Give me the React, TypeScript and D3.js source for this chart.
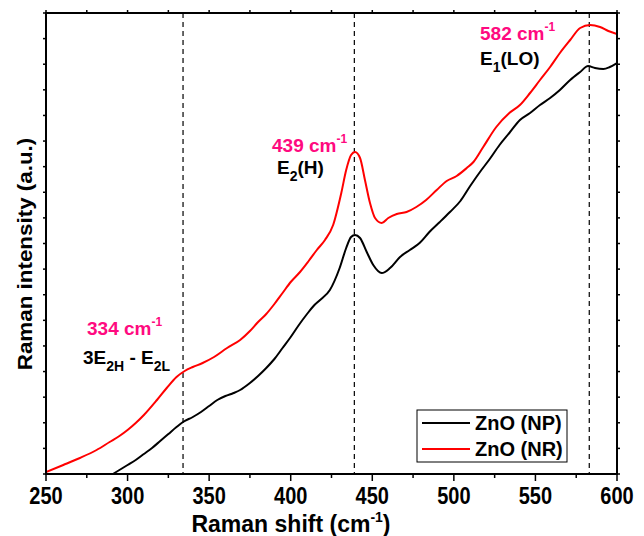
import React from "react";
import * as d3 from "d3";

// Raman shift (cm^-1) and intensity (a.u.)
const npShift = [291, 295, 300, 305, 310, 315, 320, 325, 330, 334, 340, 345, 350, 355, 360, 365, 369, 375, 380, 385, 390, 395, 400, 405, 410, 414, 418, 424, 430, 434, 437, 439.4, 442.5, 446.6, 450.6, 455.8, 460.9, 467, 473, 479, 485, 491.4, 497.6, 504, 510, 516, 522, 528, 534, 540.5, 546.7, 552.8, 559, 565, 571.3, 577.4, 582.3, 586.5, 591.6, 595.6, 600];
const npIntensity = [0, 4, 9, 14, 20, 26, 33, 40, 47, 52, 57, 62, 68, 74, 78, 81, 84, 91, 98, 106, 115, 126, 137, 149, 160, 168, 174, 184, 206, 226, 237, 239, 236, 222, 209, 201, 206, 217, 224, 231, 242, 252, 262, 273, 288, 302, 315, 329, 341, 354, 361, 369, 376, 384, 394, 402, 408, 406, 405, 407, 411];

const nrShift = [250, 260.6, 270.8, 281, 289, 295, 300, 305, 310, 318, 324, 330, 335, 340, 346, 353, 361, 369, 375, 380, 385, 390, 395, 400, 405.7, 411, 416, 421, 426, 431, 434, 437, 439.4, 442.5, 445.5, 448.6, 451.7, 455.8, 459.8, 465, 471, 477, 483, 489.5, 495.6, 501.7, 507.9, 512, 518, 526, 534, 540.5, 546.7, 552.8, 559, 565, 571.3, 577.4, 583.5, 589.6, 594.7, 600];
const nrIntensity = [2, 9, 16, 24, 32, 38, 44, 51, 59, 74, 86, 97, 103, 107, 111, 117, 126, 134, 143, 152, 160, 170, 181, 192, 202, 213, 224, 234, 249, 281, 304, 319, 322, 316, 294, 271, 256, 251, 256, 260, 262, 267, 274, 284, 293, 298, 306, 312, 327, 347, 361, 369, 381, 394, 407, 421, 434, 446, 449, 447, 443, 440];

const xTickValues = [250, 300, 350, 400, 450, 500, 550, 600];
const peakLines = [334, 439, 583];
const seriesNames = ["ZnO (NP)", "ZnO (NR)"];
const seriesColors = ["#000000", "#ff0000"];

const W = 644, H = 536;
const L = 46, R = 617, T = 13, B = 474;
const FONT = "'Liberation Sans', Arial, sans-serif";
const PINK = "#ff0a80";

export default function App() {
  const x = d3.scaleLinear().domain([250, 600]).range([L, R]);
  const y = d3.scaleLinear().domain([0, 461]).range([B, T]);
  const line = d3
    .line<[number, number]>()
    .x((d) => x(d[0]))
    .y((d) => y(d[1]))
    .curve(d3.curveMonotoneX);
  const np = npShift.map((s, i) => [s, npIntensity[i]] as [number, number]);
  const nr = nrShift.map((s, i) => [s, nrIntensity[i]] as [number, number]);

  const minorX = d3.range(250, 601, 25);
  const yTicks = d3.range(0, 19).map((i) => B - (i * (B - T)) / 18);

  return (
    <svg width={W} height={H} style={{ position: "absolute", left: 0, top: 0 }} fontFamily={FONT} fontWeight="bold">
      <defs>
        <clipPath id="plot">
          <rect x={L} y={T} width={R - L} height={B - T} />
        </clipPath>
      </defs>
      <rect width={W} height={H} fill="#fff" />
      {/* dashed peak lines */}
      {peakLines.map((p) => (
        <line key={p} x1={x(p)} x2={x(p)} y1={T} y2={B} stroke="#000" strokeWidth={1.2} strokeDasharray="5,4" />
      ))}
      <g clipPath="url(#plot)">
        <path d={line(np) || ""} fill="none" stroke={seriesColors[0]} strokeWidth={2} />
        <path d={line(nr) || ""} fill="none" stroke={seriesColors[1]} strokeWidth={2} />
      </g>
      {/* frame */}
      <rect x={L} y={T} width={R - L} height={B - T} fill="none" stroke="#000" strokeWidth={2} />
      {/* x ticks */}
      {minorX.map((v) => {
        const major = v % 50 === 0;
        return (
          <g key={v}>
            <line x1={x(v)} x2={x(v)} y1={B} y2={B + (major ? 7 : 4)} stroke="#000" strokeWidth={1.5} />
            <line x1={x(v)} x2={x(v)} y1={T} y2={T - 3} stroke="#000" strokeWidth={1.5} />
          </g>
        );
      })}
      {yTicks.map((py, i) => (
        <g key={i}>
          <line x1={L - 3} x2={L} y1={py} y2={py} stroke="#000" strokeWidth={1.5} />
          <line x1={R} x2={R + 3} y1={py} y2={py} stroke="#000" strokeWidth={1.5} />
        </g>
      ))}
      {xTickValues.map((v) => (
        <g key={v} transform={`translate(${x(v)},504) scale(1,1.15)`}>
          <text x={0} y={0} textAnchor="middle" fontSize={20}>
            {v}
          </text>
        </g>
      ))}
      {/* axis titles */}
      <g transform="translate(291,532)">
        <text x={0} y={0} textAnchor="middle" fontSize={23}>
          Raman shift (cm<tspan fontSize={14} dy={-10}>-1</tspan>
          <tspan dy={10}>)</tspan>
        </text>
      </g>
      <g transform={`translate(32,254) scale(1,1.12) rotate(-90)`}>
        <text x={0} y={0} textAnchor="middle" fontSize={20}>
          Raman intensity (a.u.)
        </text>
      </g>
      {/* annotations */}
      <text x={87} y={335} fontSize={19} fill={PINK}>
        334 cm<tspan fontSize={12} dy={-9}>-1</tspan>
      </text>
      <text x={83} y={364} fontSize={19}>
        3E<tspan fontSize={14} dy={7}>2H</tspan>
        <tspan dy={-7}> - E</tspan>
        <tspan fontSize={14} dy={7}>2L</tspan>
      </text>
      <text x={272} y={152} fontSize={19} fill={PINK}>
        439 cm<tspan fontSize={12} dy={-9}>-1</tspan>
      </text>
      <text x={277} y={174} fontSize={19}>
        E<tspan fontSize={14} dy={7}>2</tspan>
        <tspan dy={-7}>(H)</tspan>
      </text>
      <text x={480} y={40} fontSize={19} fill={PINK}>
        582 cm<tspan fontSize={12} dy={-9}>-1</tspan>
      </text>
      <text x={480} y={65} fontSize={19}>
        E<tspan fontSize={14} dy={7}>1</tspan>
        <tspan dy={-7}>(LO)</tspan>
      </text>
      {/* legend */}
      <rect x={417} y={410} width={150} height={52} fill="#fff" stroke="#000" strokeWidth={1} />
      {seriesNames.map((n, i) => (
        <g key={n}>
          <line x1={422} x2={470} y1={423 + i * 26} y2={423 + i * 26} stroke={seriesColors[i]} strokeWidth={2} />
          <text x={475} y={430 + i * 26} fontSize={20}>
            {n}
          </text>
        </g>
      ))}
    </svg>
  );
}
